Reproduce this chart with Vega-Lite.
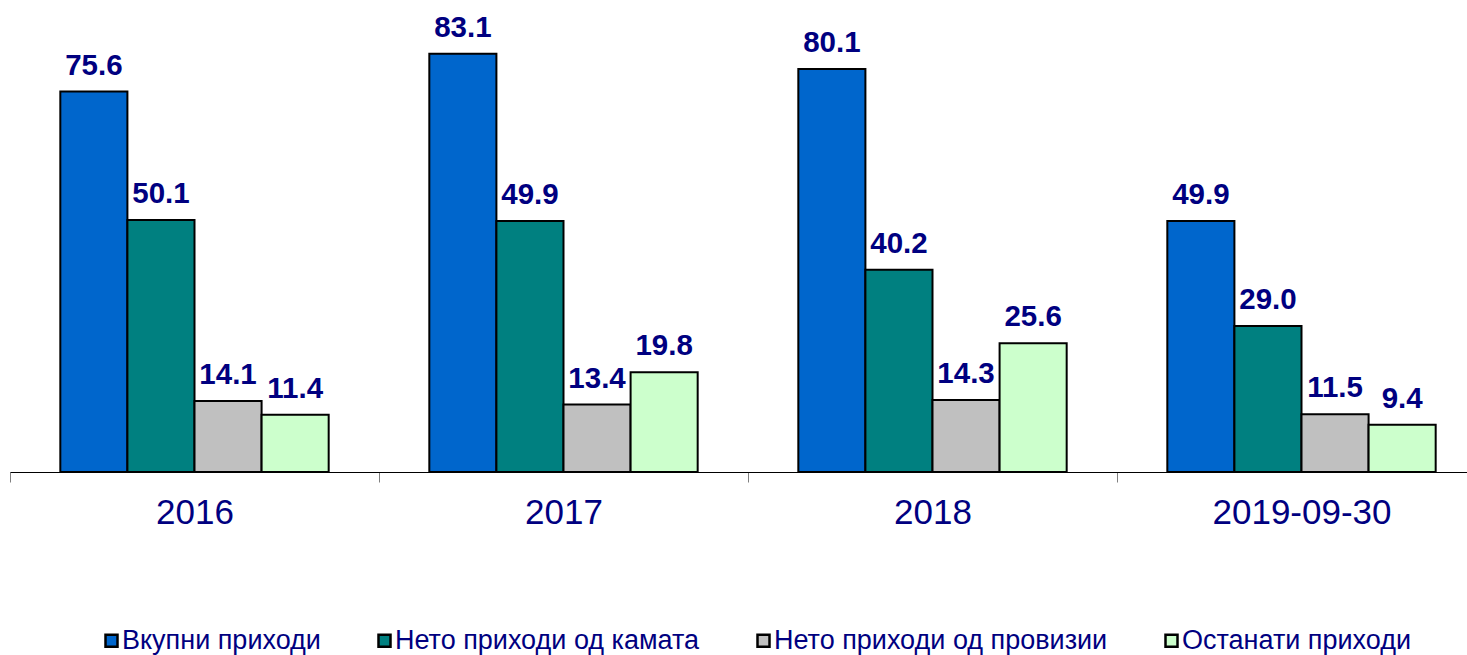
{
  "$schema": "https://vega.github.io/schema/vega-lite/v6.json",
  "autosize": {"type": "none"},
  "width": 1476,
  "height": 472,
  "padding": {"left": 10, "top": 0, "right": 0, "bottom": 183},
  "background": "white",
  "config": {
    "view": {"stroke": null},
    "font": "Liberation Sans"
  },
  "data": {
    "values": [
      {"period": "2016", "series": "Вкупни приходи", "value": 75.6},
      {"period": "2016", "series": "Нето приходи од камата", "value": 50.1},
      {"period": "2016", "series": "Нето приходи од провизии", "value": 14.1},
      {"period": "2016", "series": "Останати приходи", "value": 11.4},
      {"period": "2017", "series": "Вкупни приходи", "value": 83.1},
      {"period": "2017", "series": "Нето приходи од камата", "value": 49.9},
      {"period": "2017", "series": "Нето приходи од провизии", "value": 13.4},
      {"period": "2017", "series": "Останати приходи", "value": 19.8},
      {"period": "2018", "series": "Вкупни приходи", "value": 80.1},
      {"period": "2018", "series": "Нето приходи од камата", "value": 40.2},
      {"period": "2018", "series": "Нето приходи од провизии", "value": 14.3},
      {"period": "2018", "series": "Останати приходи", "value": 25.6},
      {"period": "2019-09-30", "series": "Вкупни приходи", "value": 49.9},
      {"period": "2019-09-30", "series": "Нето приходи од камата", "value": 29.0},
      {"period": "2019-09-30", "series": "Нето приходи од провизии", "value": 11.5},
      {"period": "2019-09-30", "series": "Останати приходи", "value": 9.4}
    ]
  },
  "encoding": {
    "x": {
      "field": "period",
      "type": "nominal",
      "sort": null,
      "scale": {"paddingInner": 0, "paddingOuter": 0},
      "axis": {
        "title": null,
        "labelAngle": 0,
        "labelFontSize": 35,
        "labelColor": "#000080",
        "labelFont": "Liberation Sans",
        "labelPadding": 13,
        "tickBand": "extent",
        "tickSize": 10,
        "tickColor": "#808080",
        "tickWidth": 1,
        "domainColor": "#000000",
        "domainWidth": 1,
        "grid": false
      }
    },
    "xOffset": {
      "field": "series",
      "type": "nominal",
      "sort": ["Вкупни приходи", "Нето приходи од камата", "Нето приходи од провизии", "Останати приходи"],
      "scale": {"paddingInner": 0, "paddingOuter": 0.75}
    },
    "y": {
      "field": "value",
      "type": "quantitative",
      "scale": {"domain": [0, 93.8], "nice": false, "zero": true},
      "axis": null
    }
  },
  "layer": [
    {
      "mark": {"type": "bar", "stroke": "#000000", "strokeWidth": 2},
      "encoding": {
        "fill": {
          "field": "series",
          "type": "nominal",
          "sort": ["Вкупни приходи", "Нето приходи од камата", "Нето приходи од провизии", "Останати приходи"],
          "scale": {
            "domain": ["Вкупни приходи", "Нето приходи од камата", "Нето приходи од провизии", "Останати приходи"],
            "range": ["#0066CC", "#008080", "#C0C0C0", "#CCFFCC"]
          },
          "legend": {
            "title": null,
            "orient": "none",
            "legendX": 88,
            "legendY": 627,
            "padding": 0,
            "direction": "horizontal",
            "symbolType": "square",
            "symbolSize": 144,
            "symbolStrokeColor": "#000000",
            "symbolStrokeWidth": 2.5,
            "labelFontSize": 27,
            "labelColor": "#000080",
            "labelFont": "Liberation Sans",
            "labelOffset": -3,
            "labelLimit": 450,
            "columnPadding": 50
          }
        }
      }
    },
    {
      "mark": {
        "type": "text",
        "baseline": "alphabetic",
        "align": "center",
        "dy": -17,
        "fontSize": 29.5,
        "fontWeight": "bold",
        "color": "#000080",
        "font": "Liberation Sans"
      },
      "encoding": {
        "text": {"field": "value", "type": "quantitative", "format": ".1f"}
      }
    }
  ]
}
